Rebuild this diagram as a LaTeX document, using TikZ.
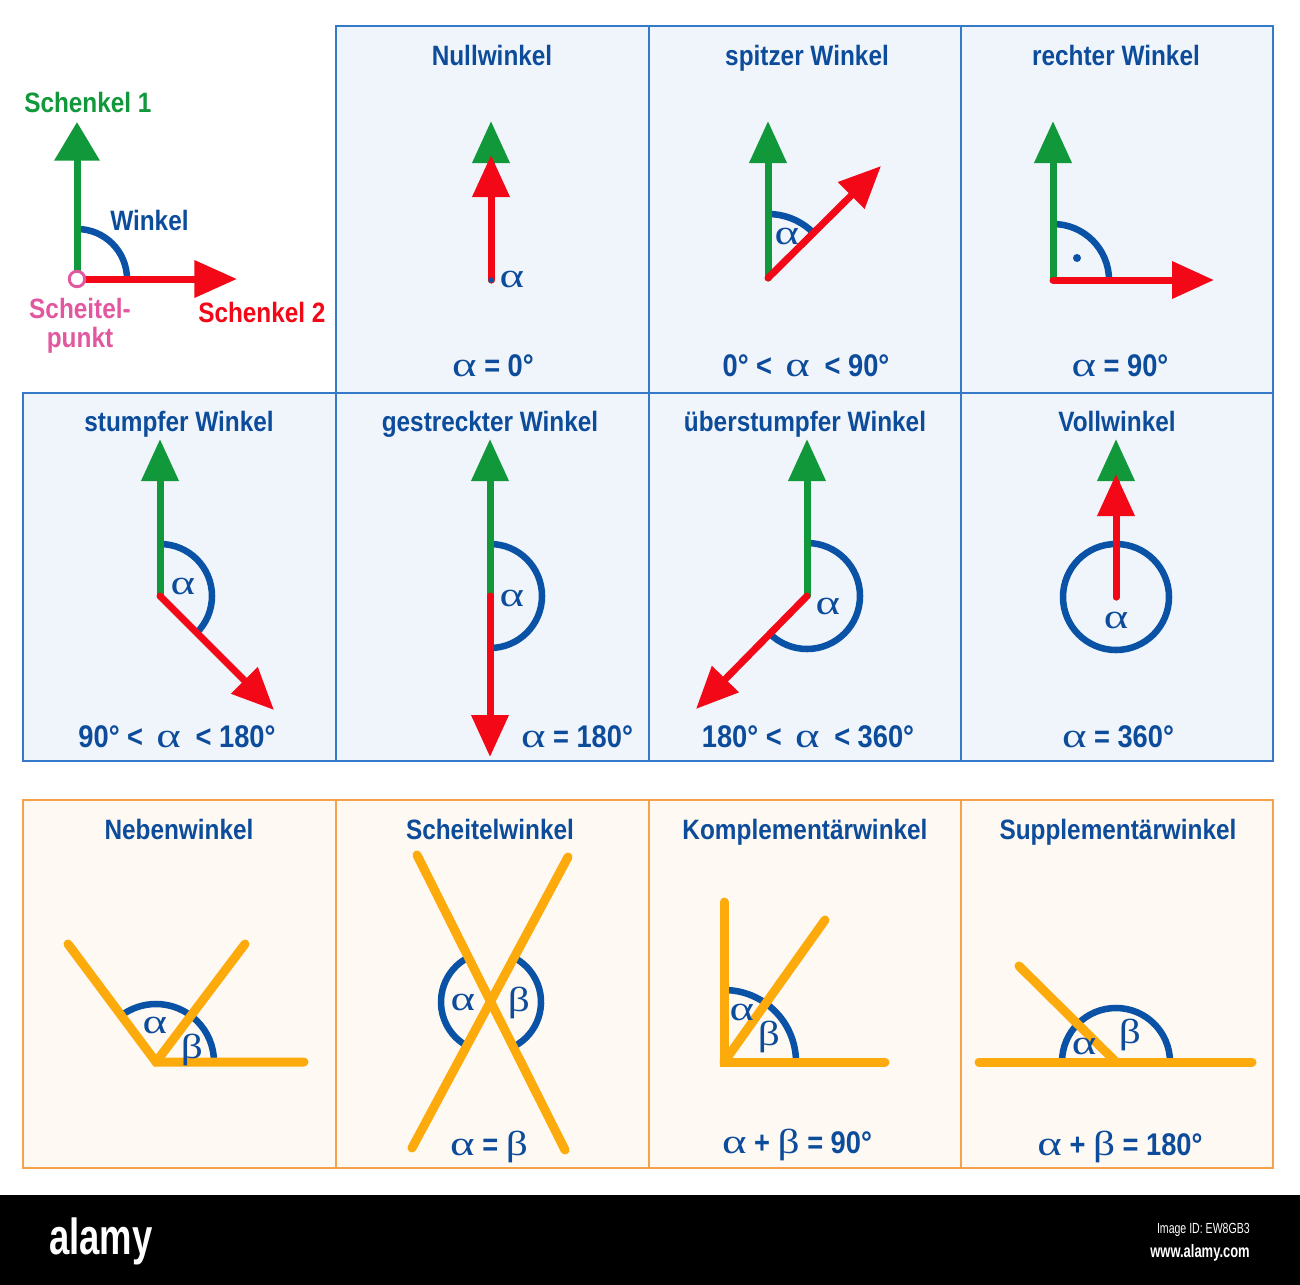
\documentclass[tikz,border=0pt]{standalone}
\usepackage{graphicx}
\usepackage{fontspec}
\setmainfont{Liberation Sans}[FakeStretch=0.87]
\newfontfamily\grkfont{Liberation Serif}
\newfontfamily\wmfont{Liberation Sans}[FakeStretch=0.72]
\usetikzlibrary{arrows.meta}
\definecolor{tblue}{RGB}{12,76,155}
\definecolor{ablue}{RGB}{10,82,165}
\definecolor{sgreen}{RGB}{16,152,58}
\definecolor{sred}{RGB}{242,8,22}
\definecolor{spink}{RGB}{226,88,160}
\definecolor{sorange}{RGB}{252,170,12}
\definecolor{bfill}{RGB}{240,245,251}
\definecolor{bbord}{RGB}{52,122,200}
\definecolor{ofill}{RGB}{254,249,242}
\definecolor{obord}{RGB}{246,162,72}
\newcommand\ttlfont{\fontsize{21}{25}\selectfont\bfseries}
\newcommand\eqfont{\fontsize{23.5}{27}\selectfont\bfseries}
\newcommand\myal{{\grkfont\mdseries\fontsize{26}{26}\selectfont\scalebox{1.35}[1]{α}}}
\newcommand\mybe{{\grkfont\mdseries\fontsize{26}{26}\selectfont\scalebox{1.25}[1]{β}}}
\begin{document}
\begin{tikzpicture}[x=0.75pt,y=-0.75pt,
  cellB/.style={draw=bbord,fill=bfill,line width=0.8pt},
  cellO/.style={draw=obord,fill=ofill,line width=0.8pt},
  ttl/.style={font=\ttlfont,text=tblue,anchor=base,inner sep=0pt},
  eqn/.style={font=\eqfont,text=tblue,anchor=base,inner sep=0pt},
  lbl/.style={text=tblue,inner sep=0pt},
  grn/.style={draw=sgreen,line width=5.25pt,line cap=round,-{Triangle[length=31.5pt,width=27pt]}},
  rd/.style={draw=sred,line width=5.25pt,line cap=round,-{Triangle[length=31.5pt,width=27pt]}},
  arcb/.style={draw=ablue,line width=4.9pt},
  orl/.style={draw=sorange,line width=6.75pt,line cap=round}]
\useasboundingbox (0,0) rectangle (1300,1285);
\fill[white] (0,0) rectangle (1300,1285);
% cells
\draw[cellB] (336,26) rectangle (649,393);
\draw[cellB] (649,26) rectangle (961,393);
\draw[cellB] (961,26) rectangle (1273,393);
\draw[cellB] (23,393) rectangle (336,761);
\draw[cellB] (336,393) rectangle (649,761);
\draw[cellB] (649,393) rectangle (961,761);
\draw[cellB] (961,393) rectangle (1273,761);
\draw[cellO] (23,800) rectangle (336,1168);
\draw[cellO] (336,800) rectangle (649,1168);
\draw[cellO] (649,800) rectangle (961,1168);
\draw[cellO] (961,800) rectangle (1273,1168);
% black bar
\fill[black] (0,1195) rectangle (1300,1285);
\node[font=\wmfont\bfseries\fontsize{38}{40}\selectfont,text=white,anchor=base west,inner sep=0pt] (wm1) at (49,1254) {alamy};
\node[font=\wmfont\fontsize{11}{12}\selectfont,text=white,anchor=base east,inner sep=0pt] (wm2) at (1250,1233) {Image ID: EW8GB3};
\node[font=\wmfont\bfseries\fontsize{13.5}{14}\selectfont,text=white,anchor=base east,inner sep=0pt] (wm3) at (1250,1257) {www.alamy.com};

% ---- legend
\coordinate (v0) at (77,279);
\coordinate (g0) at (77,122);
\coordinate (r0) at (237,279);
\draw[arcb] (v0) ++(90:37.5pt) arc[start angle=90,end angle=0,radius=37.5pt];
\draw[grn,-{Triangle[length=29pt,width=33pt]}] (v0) -- (g0);
\draw[rd,-{Triangle[length=32pt,width=27pt]}] (v0) -- (r0);
\draw[spink,line width=2.2pt,fill=white] (v0) circle[radius=5.8pt];
\node[font=\ttlfont,text=sgreen,anchor=base west,inner sep=0pt] (l1) at (24,112) {Schenkel 1};
\node[font=\ttlfont,text=tblue,anchor=base west,inner sep=0pt] (l2) at (110,230) {Winkel};
\node[font=\ttlfont,text=spink,align=center,inner sep=0pt,anchor=north] (l3) at (80,298) {Scheitel-\\[-3pt]punkt};
\node[font=\ttlfont,text=sred,anchor=base west,inner sep=0pt] (l4) at (198,322) {Schenkel 2};

% ---- Nullwinkel
\node[ttl] (t1) at (492,65) {Nullwinkel};
\coordinate (v1) at (491,280);
\coordinate (g1) at (491,121);
\coordinate (r1) at (491,155);
\draw[grn] (v1) -- (g1);
\draw[rd] (v1) -- (r1);
\fill[ablue] (v1) circle[radius=2pt];
\node[lbl] (a1) at (512,279) {\myal};
\node[eqn] (e1) at (493,376) {\myal\ = 0°};

% ---- spitzer Winkel
\node[ttl] (t2) at (807,65) {spitzer Winkel};
\coordinate (v2) at (768,278);
\coordinate (g2) at (768,121);
\coordinate (r2) at (881,166);
\draw[arcb] (v2) ++(90:48pt) arc[start angle=90,end angle=44.7,radius=48pt];
\draw[grn] (v2) -- (g2);
\draw[rd] (v2) -- (r2);
\node[lbl] (a2) at (787,236) {\myal};
\node[eqn] (e2) at (806,376) {0°\ <\hspace{10pt}\myal\hspace{11pt}<\ 90°};

% ---- rechter Winkel
\node[ttl] (t3) at (1116,65) {rechter Winkel};
\coordinate (v3) at (1053,280);
\coordinate (g3) at (1053,121);
\coordinate (r3) at (1214,280);
\draw[arcb] (v3) ++(90:42pt) arc[start angle=90,end angle=0,radius=42pt];
\draw[grn] (v3) -- (g3);
\draw[rd] (v3) -- (r3);
\fill[ablue] (1077,258) circle[radius=3pt];
\node[eqn] (e3) at (1120,376) {\myal\ = 90°};

% ---- stumpfer Winkel
\node[ttl] (t4) at (179,431) {stumpfer Winkel};
\coordinate (v4) at (160,596);
\coordinate (g4) at (160,439);
\coordinate (r4) at (274,710);
\draw[arcb] (v4) ++(90:39pt) arc[start angle=90,end angle=-45,radius=39pt];
\draw[grn] (v4) -- (g4);
\draw[rd] (v4) -- (r4);
\node[lbl] (a4) at (183,586) {\myal};
\node[eqn] (e4) at (177,747) {90°\ <\hspace{10pt}\myal\hspace{11pt}<\ 180°};

% ---- gestreckter Winkel
\node[ttl] (t5) at (490,431) {gestreckter Winkel};
\coordinate (v5) at (490,596);
\coordinate (g5) at (490,439);
\coordinate (r5) at (490,757);
\draw[arcb] (v5) ++(90:39pt) arc[start angle=90,end angle=-90,radius=39pt];
\draw[grn] (v5) -- (g5);
\draw[rd] (v5) -- (r5);
\node[lbl] (a5) at (512,598) {\myal};
\node[eqn] (e5) at (577,747) {\myal\ = 180°};

% ---- ueberstumpfer Winkel
\node[ttl] (t6) at (805,431) {überstumpfer Winkel};
\coordinate (v6) at (807,596);
\coordinate (g6) at (807,439);
\coordinate (r6) at (696,709);
\draw[arcb] (v6) ++(90:39.75pt) arc[start angle=90,end angle=-134.5,radius=39.75pt];
\draw[grn] (v6) -- (g6);
\draw[rd] (v6) -- (r6);
\node[lbl] (a6) at (828,606) {\myal};
\node[eqn] (e6) at (808,747) {180°\ <\hspace{10pt}\myal\hspace{11pt}<\ 360°};

% ---- Vollwinkel
\node[ttl] (t7) at (1117,431) {Vollwinkel};
\coordinate (v7) at (1116,597);
\coordinate (g7) at (1116,439);
\coordinate (r7) at (1116,474);
\draw[arcb] (v7) circle[radius=39.75pt];
\draw[grn] (v7) -- (g7);
\draw[rd] (v7) -- (r7);
\node[lbl] (a7) at (1116,620) {\myal};
\node[eqn] (e7) at (1118,747) {\myal\ = 360°};

% ---- Nebenwinkel
\node[ttl] (t8) at (179,839) {Nebenwinkel};
\coordinate (v8) at (156,1062);
\coordinate (a8) at (68,944);
\coordinate (b8) at (245,944);
\coordinate (c8) at (304,1062);
\draw[arcb] (v8) ++(0:43.5pt) arc[start angle=0,end angle=127,radius=43.5pt];
\draw[orl] (a8) -- (v8) -- (c8);
\draw[orl] (v8) -- (b8);
\node[lbl] (al8) at (155,1025) {\myal};
\node[lbl] (be8) at (192,1050) {\mybe};

% ---- Scheitelwinkel
\node[ttl] (t9) at (490,839) {Scheitelwinkel};
\coordinate (x9) at (491,1002);
\coordinate (p9) at (417,855);
\coordinate (q9) at (565,1150);
\coordinate (s9) at (568,857);
\coordinate (u9) at (412,1148);
\draw[arcb] (x9) ++(116:37.5pt) arc[start angle=116,end angle=242,radius=37.5pt];
\draw[arcb] (x9) ++(-63:37.5pt) arc[start angle=-63,end angle=62,radius=37.5pt];
\draw[orl] (p9) -- (q9);
\draw[orl] (s9) -- (u9);
\node[lbl] (al9) at (463,1002) {\myal};
\node[lbl] (be9) at (519,1003) {\mybe};
\node[eqn] (e9) at (489,1155) {\myal\ = \mybe};

% ---- Komplementaerwinkel
\node[ttl] (t10) at (805,839) {Komplementärwinkel};
\coordinate (v10) at (724,1062);
\coordinate (a10) at (724,902);
\coordinate (b10) at (825,920);
\coordinate (c10) at (885,1062);
\draw[arcb] (v10) ++(0:54pt) arc[start angle=0,end angle=90,radius=54pt];
\draw[orl] (a10) -- (v10) -- (c10);
\draw[orl] (v10) -- (b10);
\node[lbl] (al10) at (742,1012) {\myal};
\node[lbl] (be10) at (769,1037) {\mybe};
\node[eqn] (e10) at (797,1153) {\myal\ +\ \mybe\ = 90°};

% ---- Supplementaerwinkel
\node[ttl] (t11) at (1118,839) {Supplementärwinkel};
\coordinate (v11) at (1116,1062);
\coordinate (l11) at (979,1062);
\coordinate (r11) at (1252,1062);
\coordinate (d11) at (1019,966);
\draw[arcb] (v11) ++(0:40.5pt) arc[start angle=0,end angle=180,radius=40.5pt];
\draw[orl] (l11) -- (r11);
\draw[orl] (d11) -- (v11);
\node[lbl] (al11) at (1084,1046) {\myal};
\node[lbl] (be11) at (1130,1035) {\mybe};
\node[eqn] (e11) at (1120,1155) {\myal\ +\ \mybe\ = 180°};
\end{tikzpicture}
\end{document}
